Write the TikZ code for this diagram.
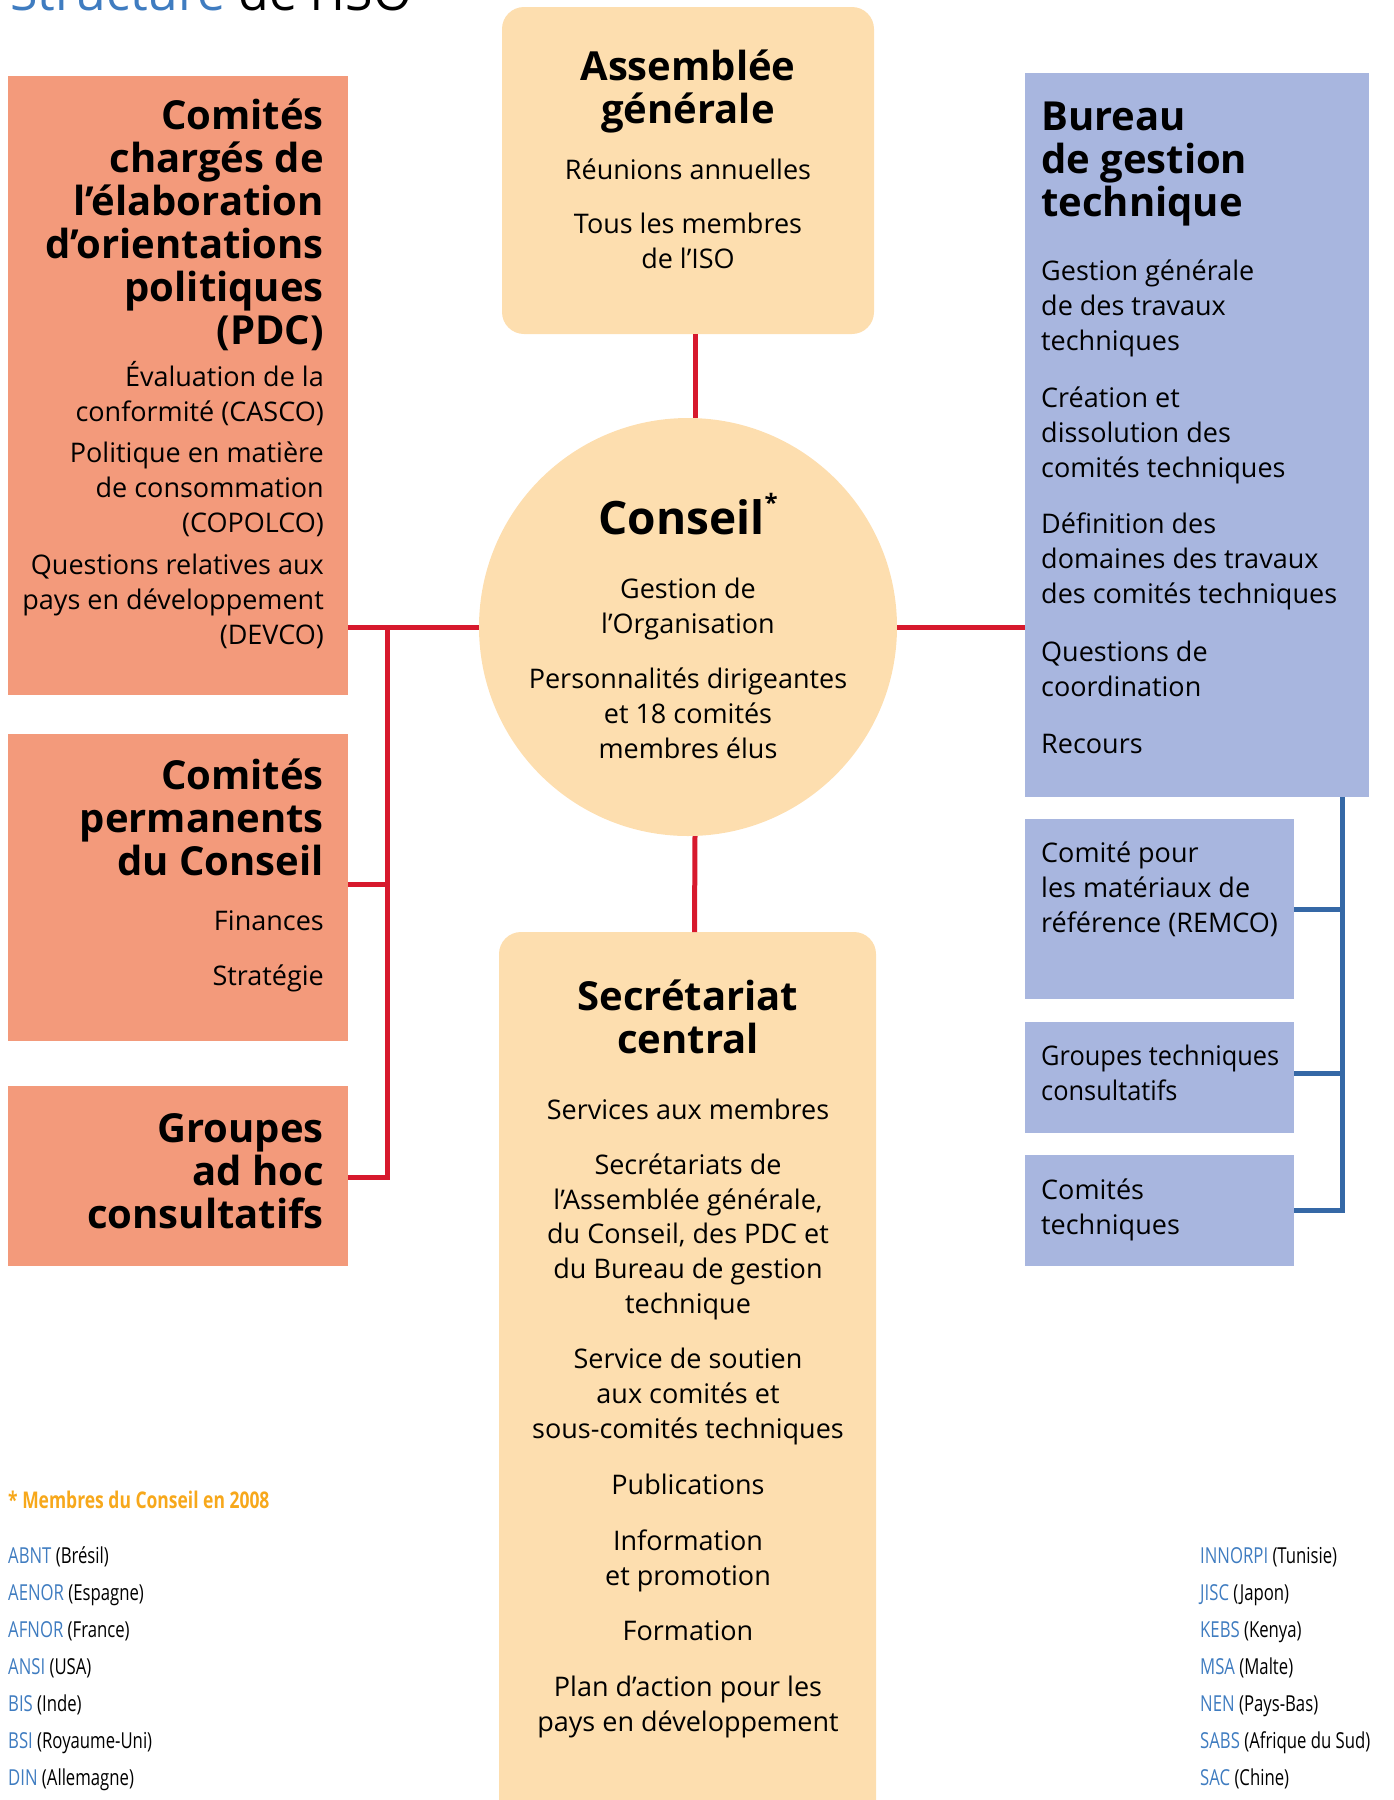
\documentclass[tikz,border=0pt]{standalone}
\usepackage{fontspec}
\setmainfont{Open Sans}
\newfontfamily\condfont[FakeStretch=0.76]{Open Sans}
\newfontfamily\narrowfont[FakeStretch=0.94]{Open Sans}
\definecolor{salmon}{HTML}{F39A7B}
\definecolor{peach}{HTML}{FDDEAF}
\definecolor{lav}{HTML}{A8B6DF}
\definecolor{isoblue}{HTML}{3F7CC0}
\definecolor{isoorange}{HTML}{F7A81B}
\definecolor{linered}{HTML}{D7192D}
\definecolor{lineblue}{HTML}{3568A6}
\begin{document}
\begin{tikzpicture}[x=1pt,y=-1pt,
  box/.style={inner sep=0pt, outer sep=0pt, anchor=north west},
  body/.style={inner sep=0pt, font=\fontsize{27}{34.6}\selectfont},
  head/.style={inner sep=0pt, font=\bfseries\fontsize{40}{43}\selectfont},
  redline/.style={draw=linered, line width=5pt},
  blueline/.style={draw=lineblue, line width=5pt},
  note/.style={inner sep=0pt, font=\condfont\fontsize{22}{37}\selectfont, align=left, anchor=base west}]
\useasboundingbox (0,0) rectangle (1394,1800);
% note: multi-line nodes are anchored at the baseline of their last line

% title (cut off by the page top)
\node[anchor=base west, inner sep=0pt, font=\fontsize{50}{50}\selectfont] (title) at (10,10) {\textcolor{isoblue}{Structure} de l’ISO};

% boxes
\node[box, fill=salmon, minimum width=340pt, minimum height=619pt] (pdc) at (8,76) {};
\node[box, fill=salmon, minimum width=340pt, minimum height=307pt] (cpc) at (8,734) {};
\node[box, fill=salmon, minimum width=340pt, minimum height=180pt] (gah) at (8,1086) {};
\node[box, fill=peach, rounded corners=22pt, minimum width=372pt, minimum height=327pt] (ag) at (502,7) {};
\node[circle, fill=peach, minimum size=418pt, inner sep=0pt, outer sep=0pt] (cons) at (688,627) {};
\node[box, fill=peach, rounded corners=22pt, minimum width=377pt, minimum height=950pt] (sc) at (499,932) {};
\node[box, fill=lav, minimum width=344pt, minimum height=724pt] (bgt) at (1025,73) {};
\node[box, fill=lav, minimum width=269pt, minimum height=180pt] (remco) at (1025,819) {};
\node[box, fill=lav, minimum width=269pt, minimum height=111pt] (gtc) at (1025,1022) {};
\node[box, fill=lav, minimum width=269pt, minimum height=111pt] (ct) at (1025,1155) {};

% connectors
\coordinate (lb0) at (387,628);
\coordinate (lb1) at (387,884);
\coordinate (lb2) at (387,1177);
\coordinate (rb1) at (1342,909);
\coordinate (rb2) at (1342,1073);
\coordinate (rb3) at (1342,1210);
\draw[redline] ([xshift=7pt]ag.south) -- ([xshift=7pt]cons.north);
\draw[redline] ([xshift=7pt]cons.south) -- ([xshift=7pt]sc.north);
\draw[redline] (pdc.east |- cons.west) -- (cons.west);
\draw[redline] (cons.east) -- (bgt.west |- cons.east);
\draw[redline] (lb0) -- (lb2) -- (gah.east |- lb2);
\draw[redline] (lb1) -- (cpc.east |- lb1);
\draw[blueline] (bgt.south -| rb1) -- (rb3) -- (ct.east |- rb3);
\draw[blueline] (rb1) -- (remco.east |- rb1);
\draw[blueline] (rb2) -- (gtc.east |- rb2);

% Assemblee generale
\node[head, align=center, anchor=base] (agT) at (688,123) {Assemblée\\générale};
\node[body, align=center, anchor=base] (ag1) at (688,179) {Réunions annuelles};
\node[body, align=center, anchor=base] (ag2) at (688,268) {Tous les membres\\de l’ISO};

% Conseil
\node[inner sep=0pt, font=\bfseries\fontsize{46}{50}\selectfont, anchor=base] (consT) at (688,534) {Conseil\raisebox{0.5em}{\fontsize{24}{24}\selectfont *}};
\node[body, align=center, anchor=base] (cons1) at (688,633) {Gestion de\\l’Organisation};
\node[body, align=center, anchor=base] (cons2) at (688,758) {Personnalités dirigeantes\\et 18 comités\\membres élus};

% Secretariat central
\node[head, align=center, anchor=base] (scT) at (688,1053) {Secrétariat\\central};
\node[body, align=center, anchor=base] (sc1) at (688,1119) {Services aux membres};
\node[body, align=center, anchor=base] (sc2) at (688,1313) {Secrétariats de\\l’Assemblée générale,\\du Conseil, des PDC et\\du Bureau de gestion\\technique};
\node[body, align=center, anchor=base] (sc3) at (688,1438) {Service de soutien\\aux comités et\\sous-comités techniques};
\node[body, align=center, anchor=base] (sc4) at (688,1494) {Publications};
\node[body, align=center, anchor=base] (sc5) at (688,1585) {Information\\et promotion};
\node[body, align=center, anchor=base] (sc6) at (688,1640) {Formation};
\node[body, align=center, anchor=base] (sc7) at (688,1731) {Plan d’action pour les\\pays en développement};

% PDC
\node[head, align=right, anchor=base east] (pdcT) at (324,344) {Comités\\chargés de\\l’élaboration\\d’orientations\\politiques\\(PDC)};
\node[body, align=right, anchor=base east] (pdc1) at (324,421) {Évaluation de la\\conformité (CASCO)};
\node[body, align=right, anchor=base east] (pdc2) at (324,532) {Politique en matière\\de consommation\\(COPOLCO)};
\node[body, align=right, anchor=base east] (pdc3) at (324,644) {Questions relatives aux\\pays en développement\\(DEVCO)};

% Comites permanents
\node[head, align=right, anchor=base east] (cpcT) at (324,875) {Comités\\permanents\\du Conseil};
\node[body, align=right, anchor=base east] (cpc1) at (324,930) {Finances};
\node[body, align=right, anchor=base east] (cpc2) at (324,985) {Stratégie};

% Groupes ad hoc
\node[head, align=right, anchor=base east] (gahT) at (324,1228) {Groupes\\ad hoc\\consultatifs};

% Bureau de gestion technique
\node[head, align=left, anchor=base west] (bgtT) at (1041,216) {Bureau\\de gestion\\technique};
\node[body, align=left, anchor=base west] (bgt1) at (1041,350) {Gestion générale\\de des travaux\\techniques};
\node[body, align=left, anchor=base west] (bgt2) at (1041,477) {Création et\\dissolution des\\comités techniques};
\node[body, align=left, anchor=base west] (bgt3) at (1041,603) {Définition des\\domaines des travaux\\des comités techniques};
\node[body, align=left, anchor=base west] (bgt4) at (1041,696) {Questions de\\coordination};
\node[body, align=left, anchor=base west] (bgt5) at (1041,753) {Recours};
\node[body, align=left, anchor=base west] (remcoT) at (1041,932) {Comité pour\\les matériaux de\\référence (REMCO)};
\node[body, align=left, anchor=base west, font=\narrowfont\fontsize{27}{34.6}\selectfont] (gtcT) at (1041,1100) {Groupes techniques\\consultatifs};
\node[body, align=left, anchor=base west] (ctT) at (1041,1234) {Comités\\techniques};

% footnote
\node[anchor=base west, inner sep=0pt, font=\condfont\bfseries\fontsize{23}{26}\selectfont, text=isoorange] (fn) at (8,1508) {* Membres du Conseil en 2008};
\node[note] (listL) at (8,1785) {\textcolor{isoblue}{ABNT} (Brésil)\\\textcolor{isoblue}{AENOR} (Espagne)\\\textcolor{isoblue}{AFNOR} (France)\\\textcolor{isoblue}{ANSI} (USA)\\\textcolor{isoblue}{BIS} (Inde)\\\textcolor{isoblue}{BSI} (Royaume-Uni)\\\textcolor{isoblue}{DIN} (Allemagne)};
\node[note] (listR) at (1200,1785) {\textcolor{isoblue}{INNORPI} (Tunisie)\\\textcolor{isoblue}{JISC} (Japon)\\\textcolor{isoblue}{KEBS} (Kenya)\\\textcolor{isoblue}{MSA} (Malte)\\\textcolor{isoblue}{NEN} (Pays-Bas)\\\textcolor{isoblue}{SABS} (Afrique du Sud)\\\textcolor{isoblue}{SAC} (Chine)};
\end{tikzpicture}
\end{document}
